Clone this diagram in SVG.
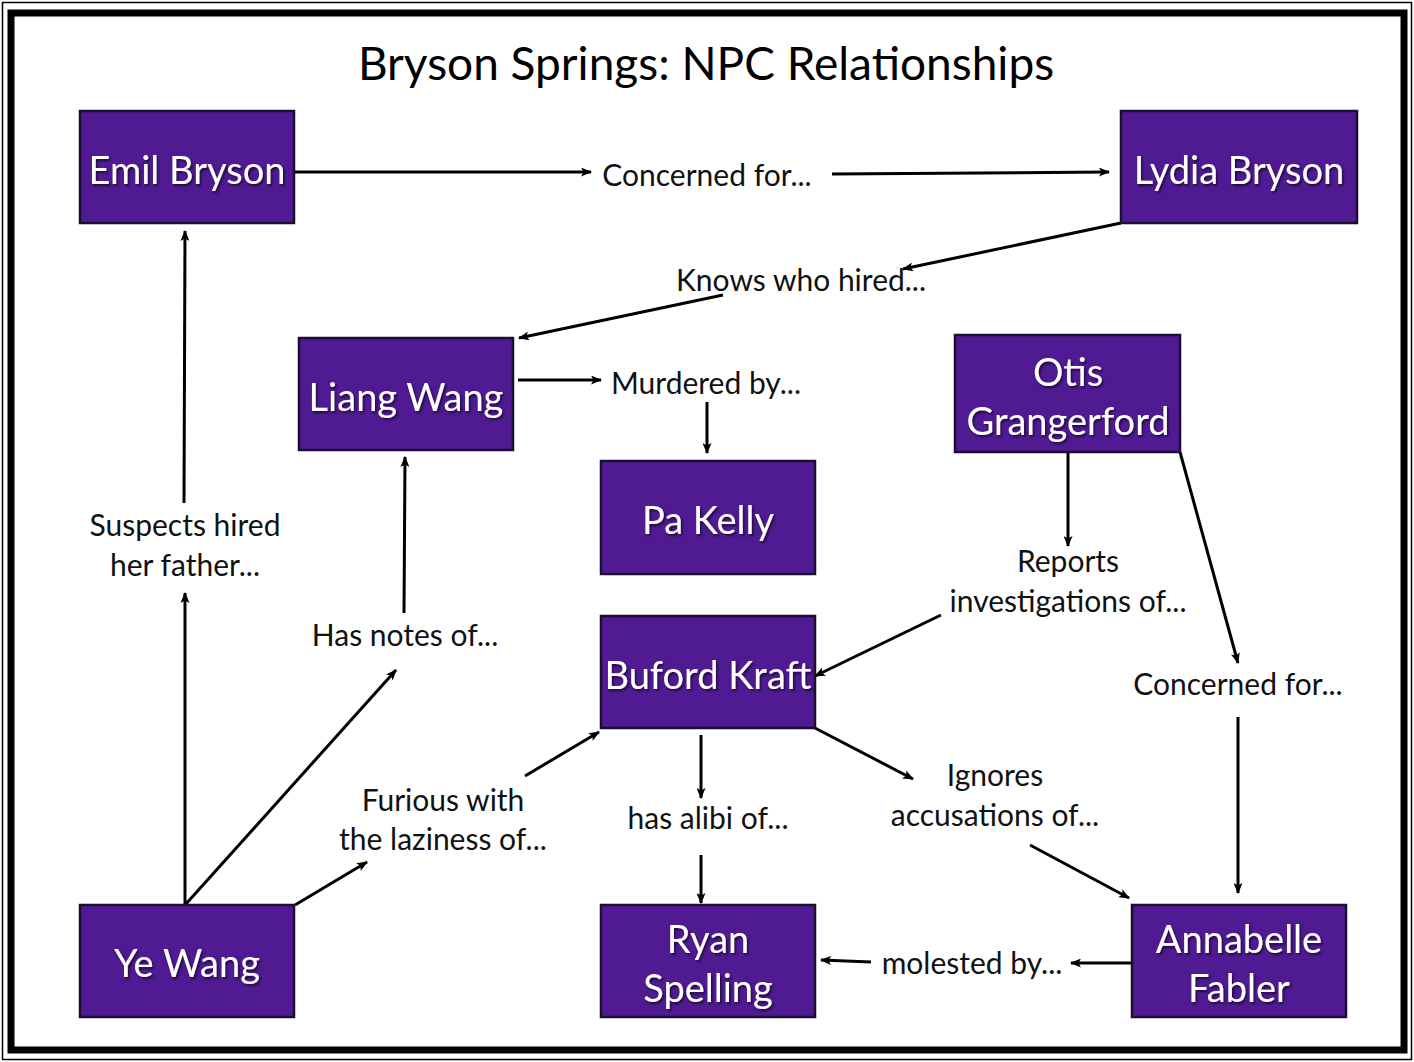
<svg xmlns="http://www.w3.org/2000/svg" width="1414" height="1062" viewBox="0 0 1414 1062">
<defs>
<style>
.node rect{fill:#4f1a92;stroke:#1e0d33;stroke-width:2.5}
.node text{fill:#ffffff;font-family:Lato,"Open Sans",sans-serif;font-size:38px;text-anchor:middle;filter:url(#sh)}
.lbl{fill:#111;font-family:Lato,"Open Sans",sans-serif;font-size:30px;text-anchor:middle}
.title{fill:#000;font-family:Lato,"Open Sans",sans-serif;font-size:46px;text-anchor:middle}
#connectors line{stroke:#000;stroke-width:3;marker-end:url(#ah)}
</style>
<marker id="ah" markerWidth="11" markerHeight="9" refX="10" refY="4.5" orient="auto" markerUnits="userSpaceOnUse">
<path d="M0,0 L11,4.5 L0,9 L2.5,4.5 Z" fill="#000"/>
</marker>
<filter id="sh" x="-10%" y="-10%" width="130%" height="140%">
<feDropShadow dx="1.5" dy="2" stdDeviation="1" flood-color="#000" flood-opacity="0.6"/>
</filter>
</defs>
<rect x="0" y="0" width="1414" height="1062" fill="#fff"/>
<rect x="2.5" y="2.5" width="1409" height="1057" fill="none" stroke="#000" stroke-width="1.5"/>
<rect x="11" y="13" width="1393" height="1037" fill="none" stroke="#000" stroke-width="7"/>
<text class="title" x="706" y="80">Bryson Springs: NPC Relationships</text>

<g id="connectors">
<line x1="295" y1="172" x2="591" y2="172"/>
<line x1="832" y1="174" x2="1109" y2="172"/>
<line x1="1121" y1="223" x2="903" y2="269"/>
<line x1="723" y1="295" x2="519" y2="338"/>
<line x1="518" y1="380" x2="601" y2="380"/>
<line x1="707" y1="402" x2="707" y2="453"/>
<line x1="185" y1="905" x2="185" y2="593"/>
<line x1="184" y1="503" x2="185" y2="231"/>
<line x1="185" y1="905" x2="396" y2="670"/>
<line x1="404" y1="613" x2="405" y2="457"/>
<line x1="295" y1="905" x2="367" y2="862"/>
<line x1="525" y1="776" x2="599" y2="732"/>
<line x1="1068" y1="452" x2="1068" y2="546"/>
<line x1="941" y1="615" x2="815" y2="676"/>
<line x1="1180" y1="452" x2="1238" y2="663"/>
<line x1="1238" y1="717" x2="1238" y2="893"/>
<line x1="701" y1="735" x2="701" y2="798"/>
<line x1="701" y1="855" x2="701" y2="903"/>
<line x1="815" y1="728" x2="913" y2="779"/>
<line x1="1030" y1="845" x2="1129" y2="898"/>
<line x1="1132" y1="963" x2="1071" y2="963"/>
<line x1="871" y1="962" x2="821" y2="960"/>
</g>

<g id="labels">
<text class="lbl" x="707" y="186">Concerned for...</text>
<text class="lbl" x="801" y="291">Knows who hired...</text>
<text class="lbl" x="706" y="394">Murdered by...</text>
<text class="lbl" x="185" y="536">Suspects hired</text>
<text class="lbl" x="185" y="576">her father...</text>
<text class="lbl" x="405" y="646">Has notes of...</text>
<text class="lbl" x="1068" y="572">Reports</text>
<text class="lbl" x="1068" y="612">investigations of...</text>
<text class="lbl" x="1238" y="695">Concerned for...</text>
<text class="lbl" x="443" y="811">Furious with</text>
<text class="lbl" x="443" y="850">the laziness of...</text>
<text class="lbl" x="708" y="829">has alibi of...</text>
<text class="lbl" x="995" y="786">Ignores</text>
<text class="lbl" x="995" y="826">accusations of...</text>
<text class="lbl" x="972" y="974">molested by...</text>
</g>

<g id="emil" class="node"><rect x="80" y="111" width="214" height="112"/><text x="187" y="184">Emil Bryson</text></g>
<g id="lydia" class="node"><rect x="1121" y="111" width="236" height="112"/><text x="1239" y="184">Lydia Bryson</text></g>
<g id="liang" class="node"><rect x="299" y="338" width="214" height="112"/><text x="406" y="411">Liang Wang</text></g>
<g id="otis" class="node"><rect x="955" y="335" width="225" height="117"/><text x="1068" y="386">Otis</text><text x="1068" y="435">Grangerford</text></g>
<g id="pakelly" class="node"><rect x="601" y="461" width="214" height="113"/><text x="708" y="534">Pa Kelly</text></g>
<g id="buford" class="node"><rect x="601" y="616" width="214" height="112"/><text x="708" y="689">Buford Kraft</text></g>
<g id="yewang" class="node"><rect x="80" y="905" width="214" height="112"/><text x="187" y="977">Ye Wang</text></g>
<g id="ryan" class="node"><rect x="601" y="905" width="214" height="112"/><text x="708" y="953">Ryan</text><text x="708" y="1002">Spelling</text></g>
<g id="annabelle" class="node"><rect x="1132" y="905" width="214" height="112"/><text x="1239" y="953">Annabelle</text><text x="1239" y="1002">Fabler</text></g>
</svg>
